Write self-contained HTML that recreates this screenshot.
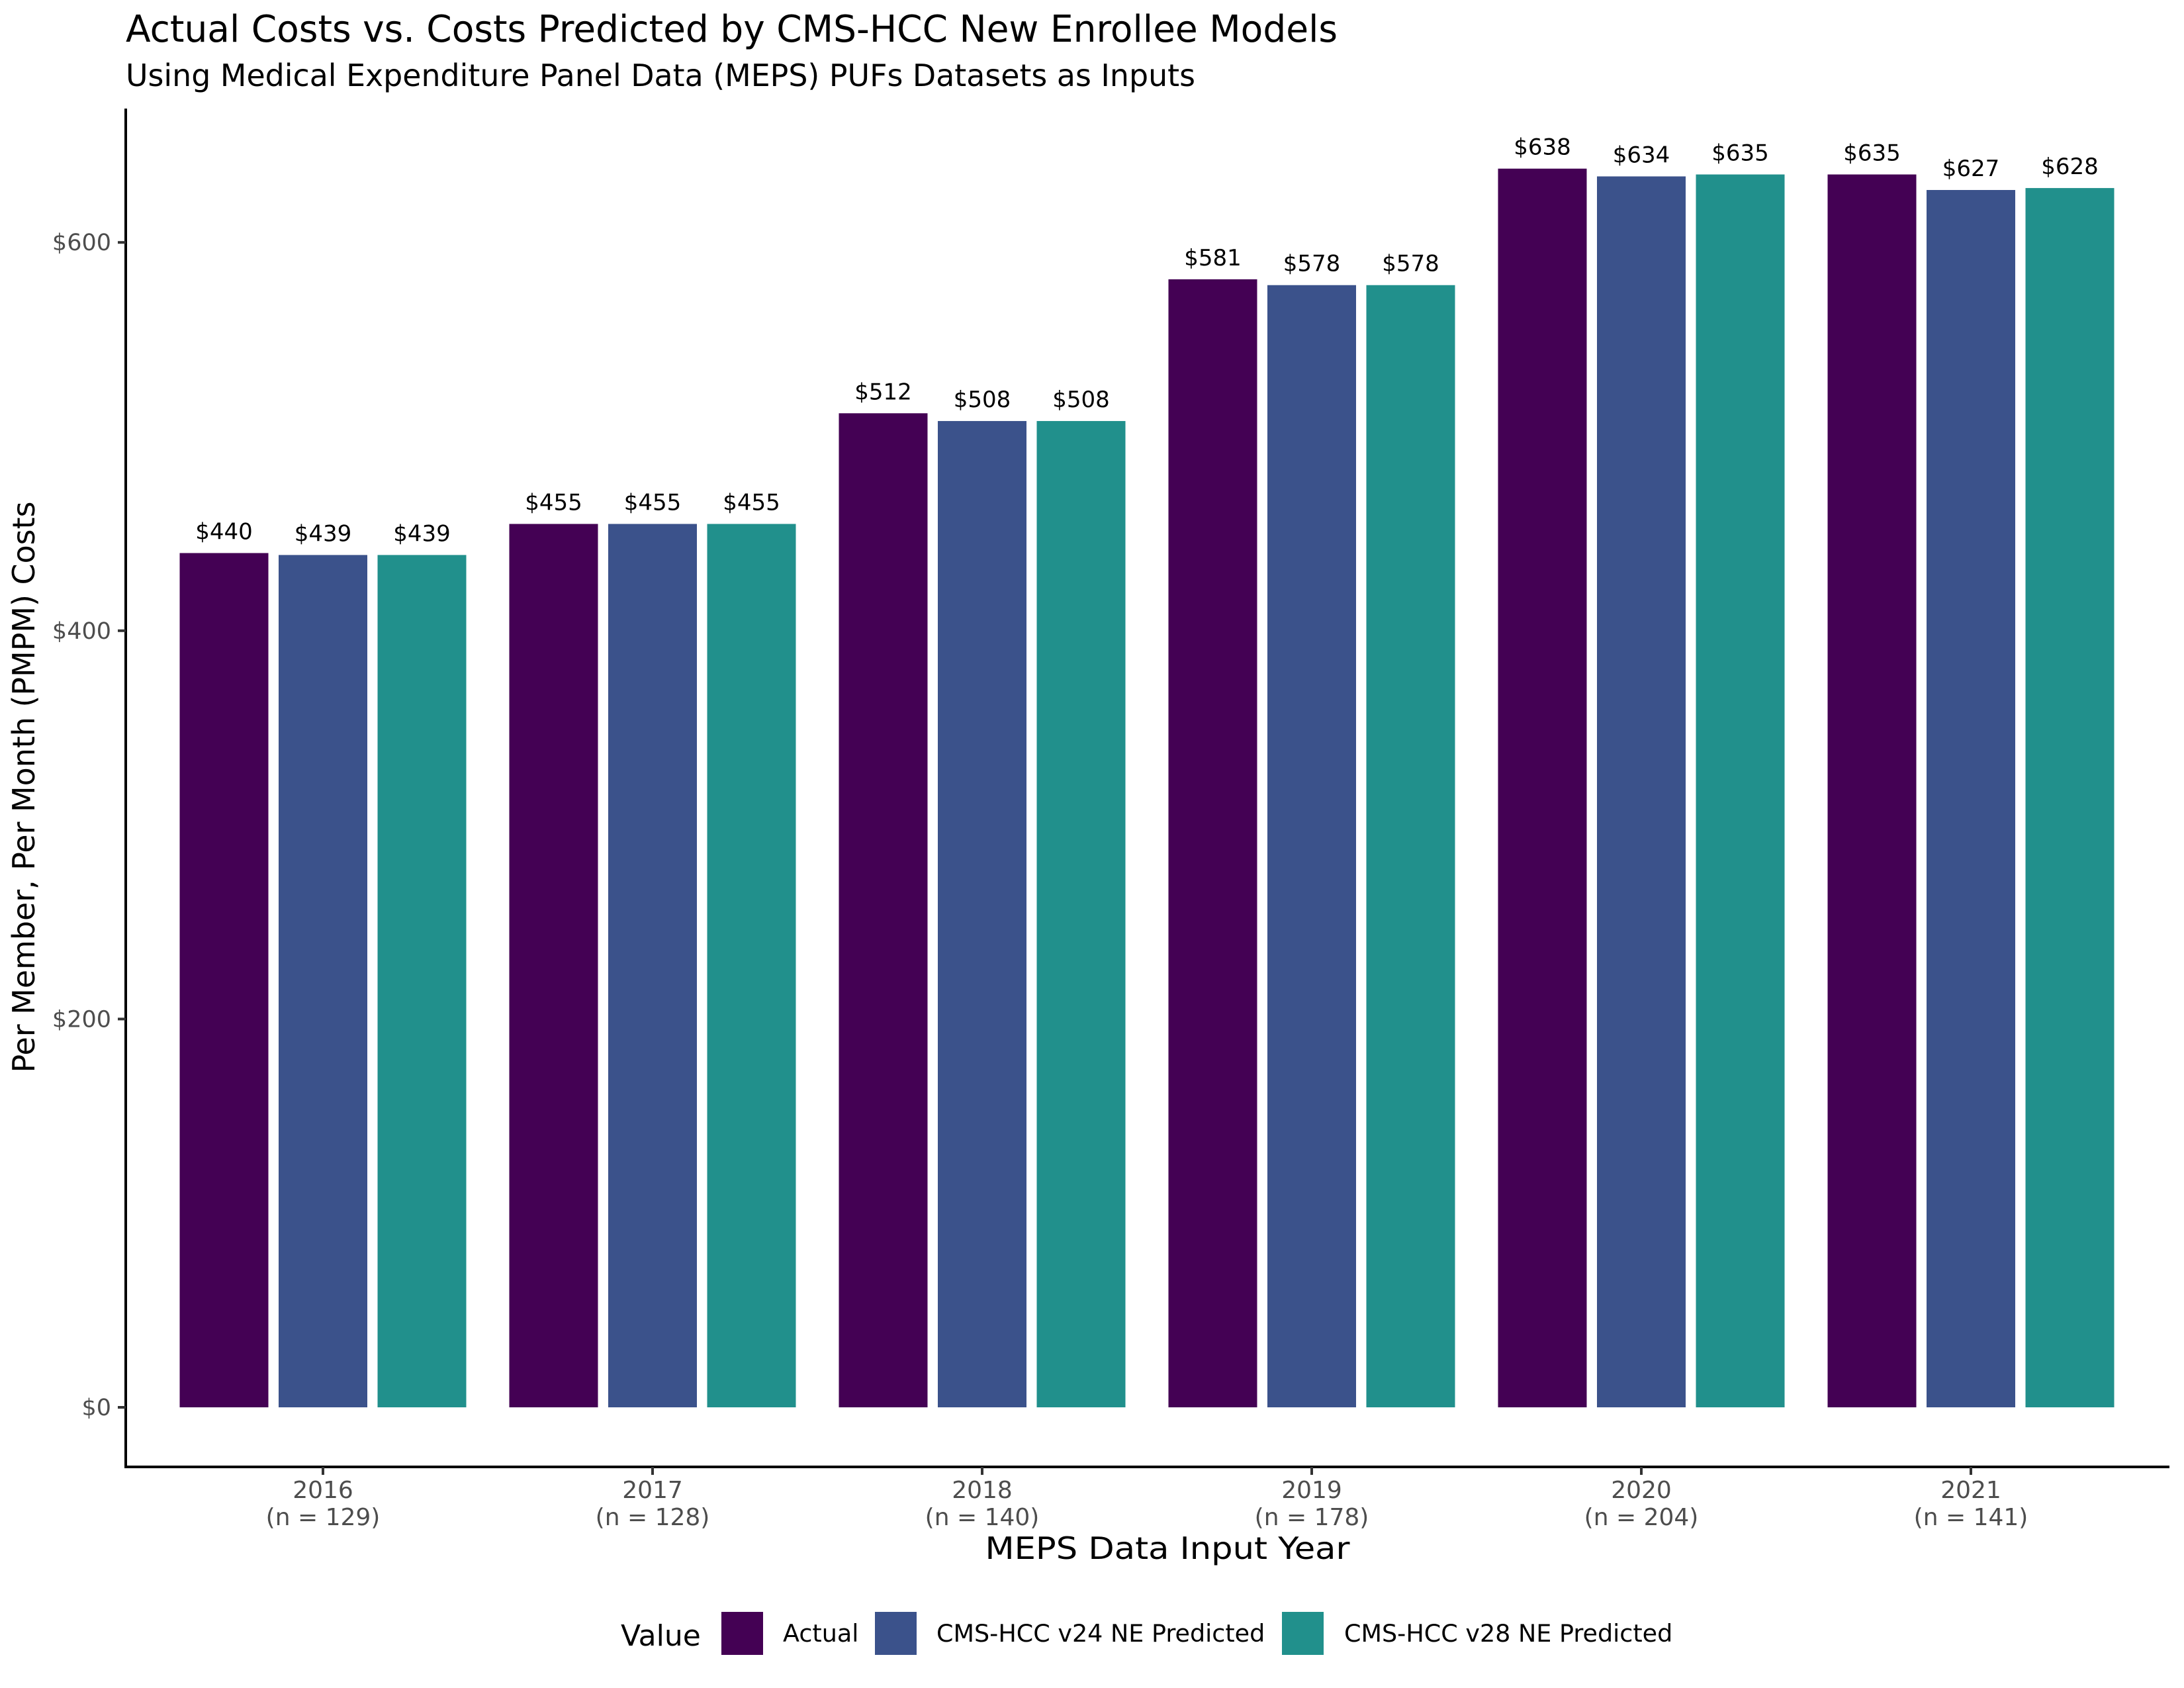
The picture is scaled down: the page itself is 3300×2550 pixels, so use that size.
<!DOCTYPE html>
<html><head><meta charset="utf-8"><style>
html,body{margin:0;padding:0;background:#fff;}
svg{display:block;font-family:"DejaVu Sans","Liberation Sans",sans-serif;}
</style></head><body>
<svg id="chart" width="3300" height="2550" viewBox="0 0 3300 2550" xmlns="http://www.w3.org/2000/svg">
<text x="190" y="63" font-size="56" fill="#000" textLength="1831" lengthAdjust="spacingAndGlyphs">Actual Costs vs. Costs Predicted by CMS-HCC New Enrollee Models</text>
<text x="190" y="130" font-size="46" fill="#000" textLength="1616" lengthAdjust="spacingAndGlyphs">Using Medical Expenditure Panel Data (MEPS) PUFs Datasets as Inputs</text>
<g id="bars"></g>
<g id="axes"></g>
<text x="1764" y="2355" font-size="46" text-anchor="middle" fill="#000" textLength="551" lengthAdjust="spacingAndGlyphs">MEPS Data Input Year</text>
<text transform="translate(52,1189) rotate(-90)" font-size="46" text-anchor="middle" fill="#000" textLength="863" lengthAdjust="spacingAndGlyphs">Per Member, Per Month (PMPM) Costs</text>
<g id="legend">
<text x="938" y="2486" font-size="44" fill="#000">Value</text>
<rect x="1090" y="2435" width="63" height="65" fill="#440154"/>
<text x="1183" y="2480" font-size="36.5" fill="#000">Actual</text>
<rect x="1322" y="2435" width="63" height="65" fill="#3B528B"/>
<text x="1415" y="2480" font-size="36.5" fill="#000">CMS-HCC v24 NE Predicted</text>
<rect x="1937" y="2435" width="63" height="65" fill="#21908C"/>
<text x="2031" y="2480" font-size="36.5" fill="#000">CMS-HCC v28 NE Predicted</text>
</g>
</svg>
<script>
const years = ["2016","2017","2018","2019","2020","2021"];
const nCounts = ["129","128","140","178","204","141"];
const actual = [440,455,512,581,638,635];
const v24 = [439,455,508,578,634,627];
const v28 = [439,455,508,578,635,628];
const yTicks = [0,200,400,600];

const NS = "http://www.w3.org/2000/svg";
const y0 = 2126, pxPer = 2.933;
function yScale(v){ return y0 - v*pxPer; }
function xScale(i){ return 488 + i*498; }
const seriesList = [[actual,"#440154","actual",-149.5],[v24,"#3B528B","v24",0],[v28,"#21908C","v28",149.5]];
const bw = 134;
function mk(tag, attrs, parent){ const e=document.createElementNS(NS,tag); for(const k in attrs) e.setAttribute(k,attrs[k]); parent.appendChild(e); return e; }
const bars = document.getElementById('bars');
seriesList.forEach(([vals,col,nm,off])=>{
  vals.forEach((v,i)=>{
    const cx = xScale(i)+off;
    const r = mk('rect',{x:cx-bw/2,y:yScale(v),width:bw,height:y0-yScale(v),fill:col},bars);
    
    
    const t = mk('text',{x:cx,y:yScale(v)-21,'font-size':34,'text-anchor':'middle',fill:'#000'},bars);
    t.textContent = '$'+v;
    
    
  });
});
const axes = document.getElementById('axes');
const yl = mk('line',{x1:190,y1:164,x2:190,y2:2218,stroke:'#000','stroke-width':4},axes);


const xl = mk('line',{x1:188,y1:2216,x2:3278,y2:2216,stroke:'#000','stroke-width':4},axes);


yTicks.forEach(v=>{
  const y=yScale(v);
  const tk = mk('line',{x1:178,y1:y,x2:190,y2:y,stroke:'#333','stroke-width':4},axes);
  
  
  const t = mk('text',{x:168,y:y+12,'font-size':35,'text-anchor':'end',fill:'#4d4d4d'},axes);
  t.textContent='$'+v;
  
  
});
years.forEach((yr,i)=>{
  const x=xScale(i);
  const tk = mk('line',{x1:x,y1:2216,x2:x,y2:2228,stroke:'#333','stroke-width':4},axes);
  
  
  const t = mk('text',{x:x,y:2263,'font-size':36,'text-anchor':'middle',fill:'#4d4d4d'},axes);
  t.textContent=yr;
  
  
  const t2 = mk('text',{x:x,y:2304,'font-size':36,'text-anchor':'middle',fill:'#4d4d4d'},axes);
  t2.textContent='(n = '+nCounts[i]+')';
  
  
});
</script>
</body></html>
